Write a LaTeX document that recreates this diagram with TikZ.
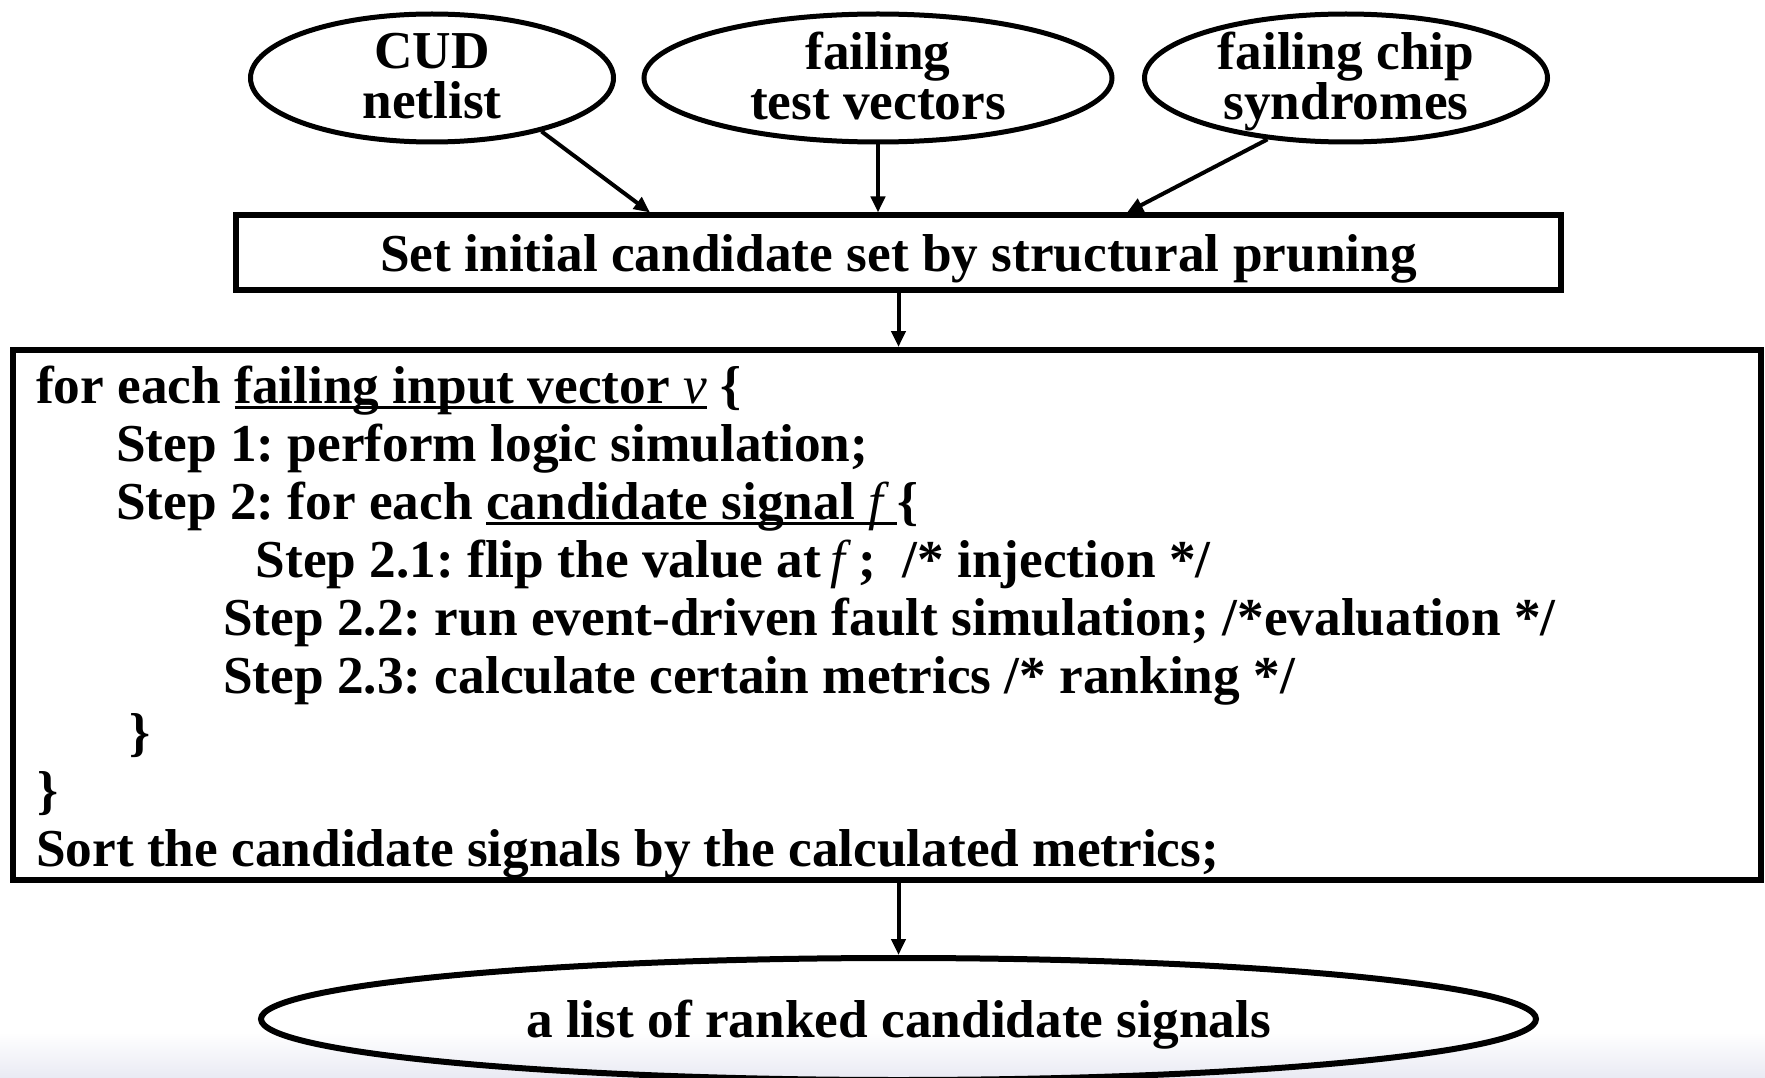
\documentclass[tikz,border=0pt]{standalone}
\usepackage{fontspec}
\setmainfont{Liberation Serif}
\usetikzlibrary{arrows.meta,shapes.geometric}

\definecolor{bandgrey}{RGB}{233,234,243}

% underline that runs through the descenders, close under the baseline
\newcommand\ulin[1]{\setbox0\hbox{#1}\rlap{\rule[-6pt]{\wd0}{3pt}}\box0\relax}
% medium-weight italic for variable names
\newcommand\vsym[1]{{\mdseries\itshape #1}}

\begin{document}
\frenchspacing
\begin{tikzpicture}[x=1pt,y=-1pt,
  txt/.style={font=\fontsize{53.3}{50}\selectfont\bfseries\frenchspacing, inner sep=0pt},
  oval/.style={draw, ellipse, line width=5pt, inner sep=0pt},
  boxed/.style={draw, rectangle, line width=6pt, inner sep=0pt},
  arr/.style={line width=4pt, -{Triangle[length=16pt,width=14pt]}},
  code/.style={txt, anchor=base west}]

\useasboundingbox (0,0) rectangle (1765,1078);
\clip (0,0) rectangle (1765,1078);
\shade[top color=white, bottom color=bandgrey] (0,1032) rectangle (1765,1078);

% inputs
\node[oval, minimum width=363pt, minimum height=128pt] (cud) at (432,78) {};
\node[oval, minimum width=468pt, minimum height=128pt] (tv)  at (878,78) {};
\node[oval, minimum width=403pt, minimum height=128pt] (syn) at (1346,78) {};
\node[txt, align=center] (cudlbl) at (432,76) {CUD\\netlist};
\node[txt, align=center] (tvlbl)  at (878,76) {failing\\test vectors};
\node[txt, align=center] (synlbl) at (1346,81.5) {failing chip\\syndromes};

% pruning step
\node[boxed, txt, minimum width=1325pt, minimum height=74.5pt, text depth=0pt]
  (prune) at (898.5,252.75) {Set initial candidate set by structural pruning};

% main loop
\node[boxed, minimum width=1748pt, minimum height=530pt] (loop) at (887,615) {};
\node[code] (l1) at (36,403)  {for each \ulin{failing input vector \vsym{v}} \{};
\node[code] (l2) at (116,461) {Step 1: perform logic simulation;};
\node[code] (l3) at (116,519) {Step 2: for each \ulin{candidate signal \vsym{f}\kern14pt}\{};
\node[code] (l4) at (255.5,577) {Step 2.1: flip the value at\,\vsym{f}\ ;\ \ /* injection */};
\node[code] (l5) at (223,635) {Step 2.2: run event-driven fault simulation; /*evaluation */};
\node[code] (l6) at (223,693) {Step 2.3: calculate certain metrics /* ranking */};
\node[code] (l7) at (129,750.5) {\}};
\node[code] (l8) at (37,808)  {\}};
\node[code] (l9) at (36,866)  {Sort the candidate signals by the calculated metrics;};

% output
\node[oval, line width=6pt, txt, minimum width=1275pt, minimum height=122pt, text depth=0pt]
  (result) at (898.5,1019) {a list of ranked candidate signals};

% connectors
\coordinate (t1) at (650,0);
\coordinate (t3) at (1127,0);
\draw[arr] (cud.-26) -- (prune.north -| t1);
\draw[arr] (tv.south) -- (tv.south |- prune.north);
\draw[arr] (syn.-142) -- (prune.north -| t3);
\draw[arr] (prune.south) -- (prune.south |- loop.north);
\draw[arr] (loop.south -| result.north) -- (result.north);
\end{tikzpicture}
\end{document}
